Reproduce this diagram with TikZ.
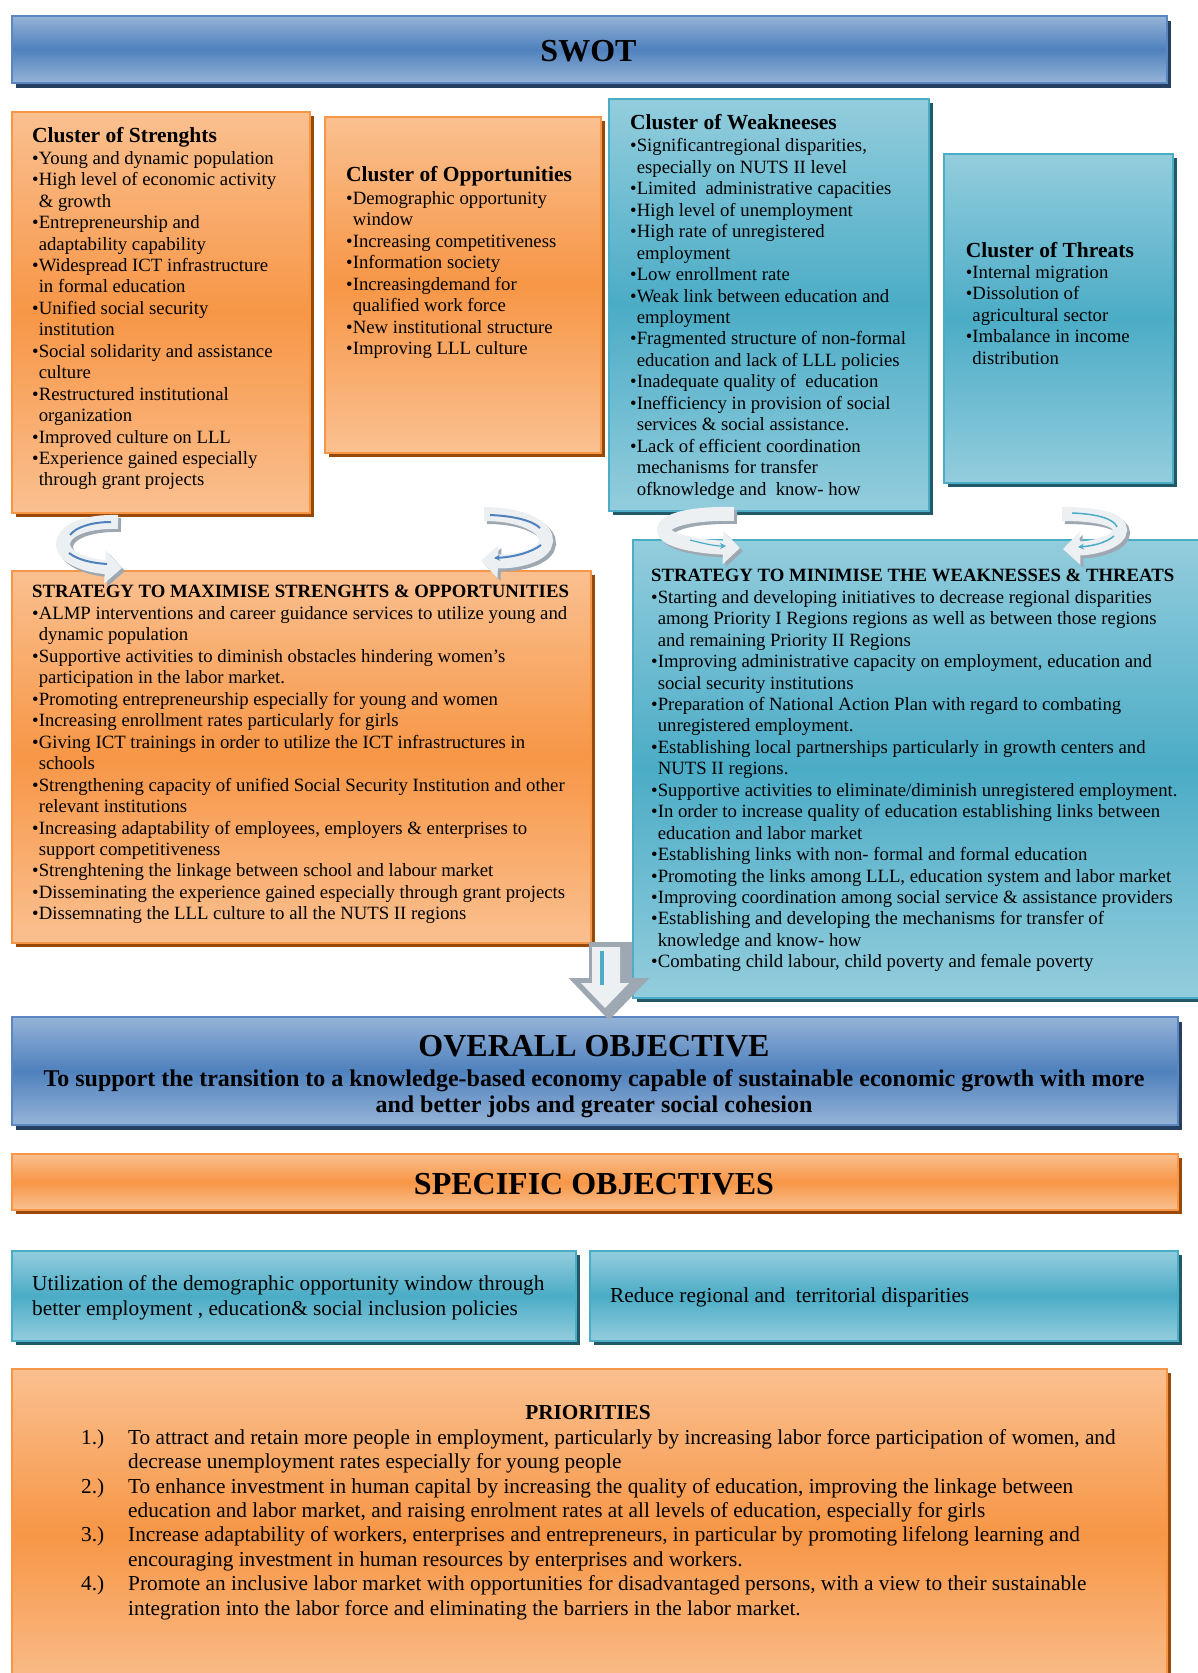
\documentclass[tikz,border=0pt]{standalone}
\usepackage{fontspec}
\setmainfont{Liberation Serif}
\usetikzlibrary{shadows,arrows.meta}
\definecolor{oLight}{HTML}{FAC090}
\definecolor{oMid}{HTML}{F79646}
\definecolor{oEdge}{HTML}{F79646}
\definecolor{oShadow}{HTML}{984807}
\definecolor{bLight}{HTML}{95B3D7}
\definecolor{bMid}{HTML}{4F81BD}
\definecolor{bEdge}{HTML}{5B86C0}
\definecolor{bShadow}{HTML}{243F60}
\definecolor{tLight}{HTML}{93CDDD}
\definecolor{tMid}{HTML}{4BACC6}
\definecolor{tEdge}{HTML}{4BACC6}
\definecolor{tShadow}{HTML}{215968}
\definecolor{bandc}{HTML}{EDF0F3}
\definecolor{bandsh}{HTML}{9DA8B2}
\newcommand\fsz[2]{\fontsize{#1}{#2}\selectfont}
\newcommand\ind{\phantom{•}}
\newcommand\st{\rule{0pt}{16pt}}
\newcommand\pst{\rule{0pt}{18pt}}
\newcommand\pn[1]{\makebox[47pt][l]{#1}}
\newcommand\pc{\hspace*{47pt}}
\begin{document}
\begin{tikzpicture}[x=1pt,y=-1pt,
  basebox/.style={anchor=north west, inner sep=0, line width=1.5pt},
  obox/.style={basebox, draw=oEdge, top color=oLight, bottom color=oLight, middle color=oMid,
    drop shadow={shadow xshift=4pt, shadow yshift=-4pt, fill=oShadow, opacity=1}},
  bbox/.style={basebox, draw=bEdge, top color=bLight, bottom color=bLight, middle color=bMid,
    drop shadow={shadow xshift=4pt, shadow yshift=-5pt, fill=bShadow, opacity=1}},
  tbox/.style={basebox, draw=tEdge, top color=tLight, bottom color=tLight, middle color=tMid,
    drop shadow={shadow xshift=4pt, shadow yshift=-4pt, fill=tShadow, opacity=1}},
  head/.style={anchor=base west, inner sep=0, font=\bfseries\fsz{21.5}{25}},
  shead/.style={anchor=base west, inner sep=0, font=\bfseries\fsz{18.75}{21.45}},
  lst/.style={anchor=north west, inner sep=0, align=left, font=\fsz{18.75}{21.45}},
  big/.style={anchor=base, inner sep=0, font=\bfseries\fsz{32}{36}},
  band/.style={line width=14pt, draw=bandc, -{Triangle[length=17pt,width=32pt]}},
  bandsh/.style={line width=14pt, draw=bandsh, -{Triangle[length=17pt,width=32pt]}},
  bline/.style={line width=2pt, -{Stealth[length=6pt,width=6pt]}}
]
\useasboundingbox (0,0) rectangle (1198,1673);
\fill[white] (0,0) rectangle (1198,1673);

% ---------- boxes ----------
\node[bbox, minimum width=1155pt, minimum height=67pt] (swot) at (11,15) {};
\node[obox, minimum width=298pt, minimum height=401pt] (str) at (11,111) {};
\node[obox, minimum width=276pt, minimum height=336pt] (opp) at (324,116) {};
\node[tbox, minimum width=320pt, minimum height=412pt] (wea) at (608,98) {};
\node[tbox, minimum width=229pt, minimum height=329pt] (thr) at (943,153) {};
\node[obox, minimum width=579pt, minimum height=372pt] (so) at (11,570) {};
\node[tbox, minimum width=590pt, minimum height=458pt] (wt) at (632,539) {};
\node[bbox, minimum width=1166pt, minimum height=108pt] (ovr) at (11,1016) {};
\node[obox, minimum width=1166pt, minimum height=56pt] (spec) at (11,1153) {};
\node[tbox, minimum width=564pt, minimum height=90pt] (sp1) at (11,1250) {};
\node[tbox, minimum width=588pt, minimum height=90pt] (sp2) at (589,1250) {};
\node[obox, minimum width=1155pt, minimum height=330pt] (pri) at (11,1368) {};

% ---------- texts ----------
\node[big] (swotT) at (588.5,61) {SWOT};

\node[head] (strH) at (32,142.7) {Cluster of Strenghts};
\node[lst] (strL) at (32,148) {\st•Young and dynamic population\\
•High level of economic activity\\
\ind\& growth\\
•Entrepreneurship and\\
\ind adaptability capability\\
•Widespread ICT infrastructure\\
\ind in formal education\\
•Unified social security\\
\ind institution\\
•Social solidarity and assistance\\
\ind culture\\
•Restructured institutional\\
\ind organization\\
•Improved culture on LLL\\
•Experience gained especially\\
\ind through grant projects};

\node[head] (oppH) at (346,181.7) {Cluster of Opportunities};
\node[lst] (oppL) at (346,188.3) {\st•Demographic opportunity\\
\ind window\\
•Increasing competitiveness\\
•Information society\\
•Increasingdemand for\\
\ind qualified work force\\
•New institutional structure\\
•Improving LLL culture};

\node[head] (weaH) at (630,129.3) {Cluster of Weakneeses};
\node[lst] (weaL) at (630,135.7) {\st•Significantregional disparities,\\
\ind especially on NUTS II level\\
•Limited\ \ administrative capacities\\
•High level of unemployment\\
•High rate of unregistered\\
\ind employment\\
•Low enrollment rate\\
•Weak link between education and\\
\ind employment\\
•Fragmented structure of non-formal\\
\ind education and lack of LLL policies\\
•Inadequate quality of\ \ education\\
•Inefficiency in provision of social\\
\ind services \& social assistance.\\
•Lack of efficient coordination\\
\ind mechanisms for transfer\\
\ind ofknowledge and\ \ know- how};

\node[head] (thrH) at (965.7,257.3) {Cluster of Threats};
\node[lst] (thrL) at (965.7,262.3) {\st•Internal migration\\
•Dissolution of\\
\ind agricultural sector\\
•Imbalance in income\\
\ind distribution};

\node[shead] (soH) at (32,597.5) {STRATEGY TO MAXIMISE STRENGHTS \& OPPORTUNITIES};
\node[lst] (soL) at (32,603.3) {\st•ALMP interventions and career guidance services to utilize young and\\
\ind dynamic population\\
•Supportive activities to diminish obstacles hindering women’s\\
\ind participation in the labor market.\\
•Promoting entrepreneurship especially for young and women\\
•Increasing enrollment rates particularly for girls\\
•Giving ICT trainings in order to utilize the ICT infrastructures in\\
\ind schools\\
•Strengthening capacity of unified Social Security Institution and other\\
\ind relevant institutions\\
•Increasing adaptability of employees, employers \& enterprises to\\
\ind support competitiveness\\
•Strenghtening the linkage between school and labour market\\
•Disseminating the experience gained especially through grant projects\\
•Dissemnating the LLL culture to all the NUTS II regions};

\node[shead] (wtH) at (651,581) {STRATEGY TO MINIMISE THE WEAKNESSES \& THREATS};
\node[lst] (wtL) at (651,587) {\st•Starting and developing initiatives to decrease regional disparities\\
\ind among Priority I Regions regions as well as between those regions\\
\ind and remaining Priority II Regions\\
•Improving administrative capacity on employment, education and\\
\ind social security institutions\\
•Preparation of National Action Plan with regard to combating\\
\ind unregistered employment.\\
•Establishing local partnerships particularly in growth centers and\\
\ind NUTS II regions.\\
•Supportive activities to eliminate/diminish unregistered employment.\\
•In order to increase quality of education establishing links between\\
\ind education and labor market\\
•Establishing links with non- formal and formal education\\
•Promoting the links among LLL, education system and labor market\\
•Improving coordination among social service \& assistance providers\\
•Establishing and developing the mechanisms for transfer of\\
\ind knowledge and know- how\\
•Combating child labour, child poverty and female poverty};

\node[big] (ovrT) at (594,1056) {OVERALL OBJECTIVE};
\node[anchor=north, inner sep=0, font=\bfseries\fsz{24}{26.7}, align=center] (ovrS) at (594,1068)
  {\pst To support the transition to a knowledge-based economy capable of sustainable economic growth with more\\
   and better jobs and greater social cohesion};

\node[big] (specT) at (594,1194) {SPECIFIC OBJECTIVES};

\node[anchor=north west, inner sep=0, align=left, font=\fsz{21.3}{25.5}] (sp1T) at (32,1272)
  {\pst Utilization of the demographic opportunity window through\\
   better employment , education\& social inclusion policies};
\node[anchor=base west, inner sep=0, font=\fsz{21.3}{25}] (sp2T) at (610,1302.6)
  {Reduce regional and\ \ territorial disparities};

\node[anchor=base, inner sep=0, font=\bfseries\fsz{21.3}{25}] (priH) at (588,1419) {PRIORITIES};
\node[anchor=north west, inner sep=0, align=left, font=\fsz{21.3}{24.4}] (priL) at (81,1426)
  {\pst\pn{1.)}To attract and retain more people in employment, particularly by increasing labor force participation of women, and\\
   \pc decrease unemployment rates especially for young people\\
   \pn{2.)}To enhance investment in human capital by increasing the quality of education, improving the linkage between\\
   \pc education and labor market, and raising enrolment rates at all levels of education, especially for girls\\
   \pn{3.)}Increase adaptability of workers, enterprises and entrepreneurs, in particular by promoting lifelong learning and\\
   \pc encouraging investment in human resources by enterprises and workers.\\
   \pn{4.)}Promote an inclusive labor market with opportunities for disadvantaged persons, with a view to their sustainable\\
   \pc integration into the labor force and eliminating the barriers in the labor market.};

% ---------- curved arrows ----------
% arrow 1 (strengths -> SO)
\begin{scope}[shift={(3,3)}]
\draw[bandsh] (118,522) .. controls (80,521) and (62,533) .. (63,545) .. controls (64,558) and (88,566) .. (122,568);
\end{scope}
\draw[band] (118,522) .. controls (80,521) and (62,533) .. (63,545) .. controls (64,558) and (88,566) .. (122,568);
\draw[line width=2pt, bMid] (111,522) .. controls (92,522) and (76,527) .. (70,535);
\draw[line width=2pt, bMid] (69,553) .. controls (78,560) and (92,563) .. (107,564);

% arrow 2 (opportunities -> SO)
\begin{scope}[shift={(3,3)}]
\draw[bandsh] (484,514) .. controls (522,514) and (547,527) .. (546,541) .. controls (545,555) and (518,562) .. (481,561);
\end{scope}
\draw[band] (484,514) .. controls (522,514) and (547,527) .. (546,541) .. controls (545,555) and (518,562) .. (481,561);
\draw[line width=2pt, bMid] (490,515) .. controls (515,516) and (533,521) .. (540,528);
\draw[bline, bMid] (541,545) .. controls (532,552) and (515,557) .. (494,558);

% arrow 3 (weaknesses -> WT)
\begin{scope}[shift={(3,3)}]
\draw[bandsh] (734,514) .. controls (692,513) and (664,520) .. (664,530) .. controls (664,541) and (700,547) .. (740,548);
\end{scope}
\draw[band] (734,514) .. controls (692,513) and (664,520) .. (664,530) .. controls (664,541) and (700,547) .. (740,548);
\draw[bline, tMid, line width=1.2pt] (690,540) .. controls (705,544) and (715,546) .. (726,546);

% arrow 4 (threats -> WT)
\begin{scope}[shift={(3,3)}]
\draw[bandsh] (1062,514) .. controls (1100,514) and (1120,520) .. (1120,530) .. controls (1120,541) and (1096,548) .. (1063,549);
\end{scope}
\draw[band] (1062,514) .. controls (1100,514) and (1120,520) .. (1120,530) .. controls (1120,541) and (1096,548) .. (1063,549);
\draw[line width=1.5pt, tMid] (1072,513) .. controls (1098,514) and (1114,519) .. (1117,527);
\draw[bline, tMid, line width=1.5pt] (1114,536) .. controls (1106,543) and (1092,546) .. (1078,547);

% down arrow
\coordinate (dA) at (606,947);
\coordinate (dB) at (605,1008);
\fill[bandsh] (596,949) -- (625,949) -- (625,985) -- (633,985) -- (609,1010) -- (585,985) -- (596,985) -- cycle;
\fill[bandc] (592,947) -- (620,947) -- (620,983) -- (629,983) -- (dB) -- (581,983) -- (592,983) -- cycle;
\draw[tMid, line width=4pt] ([xshift=-4pt]dA) ++(0,4) -- ++(0,34);
\end{tikzpicture}
\end{document}
